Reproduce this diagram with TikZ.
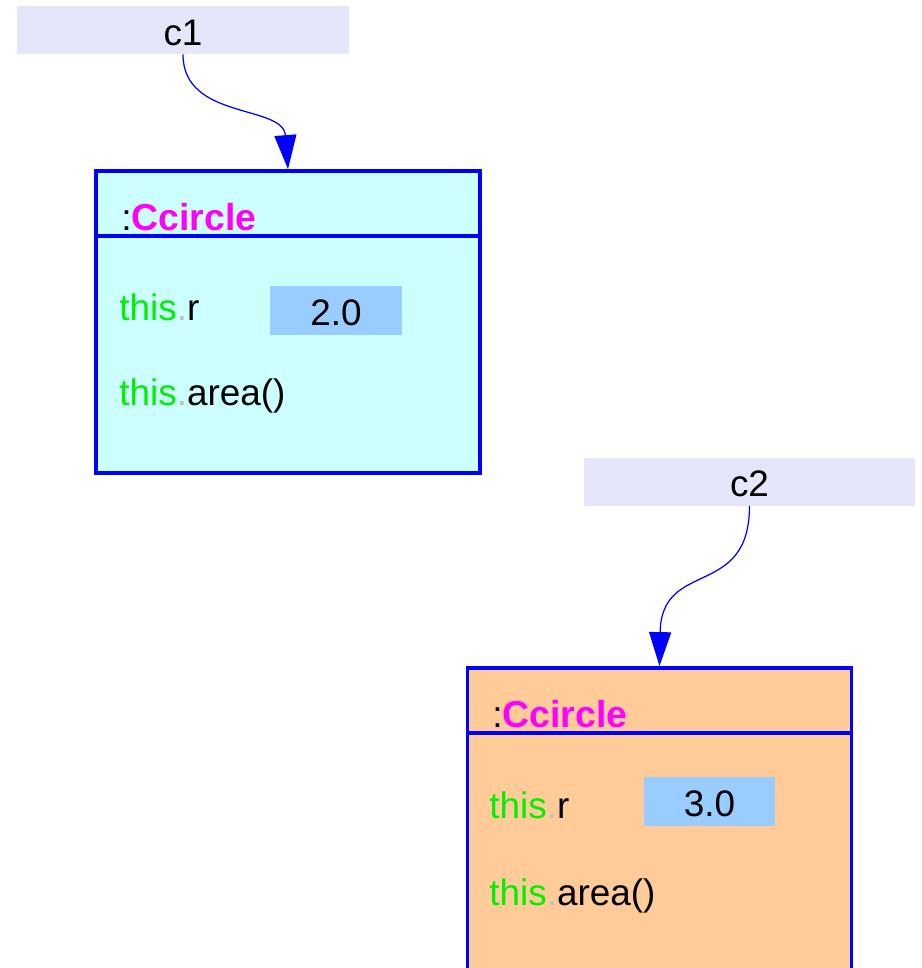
\documentclass[tikz,border=0pt]{standalone}
\usepackage{fontspec}
\setmainfont{Liberation Sans}
\definecolor{objblue}{RGB}{0,0,255}
\definecolor{reflav}{RGB}{230,230,250}
\definecolor{cyanfill}{RGB}{204,255,255}
\definecolor{orangefill}{RGB}{255,204,153}
\definecolor{valblue}{RGB}{153,204,255}
\definecolor{thisgreen}{RGB}{0,240,0}
\definecolor{dotgray}{RGB}{192,192,192}
\definecolor{titlemag}{RGB}{255,0,255}
\usetikzlibrary{arrows.meta,positioning}

\newcommand{\thisof}[1]{{\color{thisgreen}this}{\color{dotgray}.}#1}

\begin{document}
\begin{tikzpicture}[x=0.02cm,y=-0.02cm,
      refbox/.style={rectangle,fill=reflav,inner sep=0pt,minimum width=6.64cm,
                     minimum height=0.96cm,text height=0.6cm,text depth=0cm,
                     font=\fontsize{21}{25}\selectfont},
      objbox/.style={rectangle,draw=objblue,line width=2.2pt,inner sep=0pt,
                     minimum width=7.68cm,minimum height=6.04cm},
      valbox/.style={rectangle,fill=valblue,inner sep=0pt,minimum width=2.64cm,
                     minimum height=0.98cm,text height=0.58cm,text depth=0cm,
                     font=\fontsize{21}{25}\selectfont},
      member/.style={anchor=base west,inner sep=0pt,font=\fontsize{21}{25}\selectfont},
      title/.style={anchor=base west,inner sep=0pt,font=\fontsize{21.3}{25}\selectfont},
      ref/.style={draw=objblue,line width=0.7pt,
                  -{Triangle[length=0.68cm,width=0.44cm]}}]

      \useasboundingbox (0,0) rectangle (921,968);

      % Objeto c1
      \node[objbox,fill=cyanfill] (obj1) at (288,322) {};
      \draw[objblue,line width=2.2pt] ([yshift=-1.34cm]obj1.north west)
        -- ([yshift=-1.34cm]obj1.north east);
      \node[title] (title1) at (121,230) {:\textbf{\color{titlemag}Ccircle}};
      \node[member] (r1) at (119,320) {\thisof{r}};
      \node[valbox] (val1) at (336,310.5) {2.0};
      \node[member] (area1) at (119,405) {\thisof{area()}};

      % Objeto c2
      \node[objbox,fill=orangefill] (obj2) at (659.5,819) {};
      \draw[objblue,line width=2.2pt] ([yshift=-1.34cm]obj2.north west)
        -- ([yshift=-1.34cm]obj2.north east);
      \node[title] (title2) at (492,727) {:\textbf{\color{titlemag}Ccircle}};
      \node[member] (r2) at (489,818) {\thisof{r}};
      \node[valbox] (val2) at (709.5,801.5) {3.0};
      \node[member] (area2) at (489,905) {\thisof{area()}};

      % Referencias
      \node[refbox] (c1) at (183,30) {c1};
      \node[refbox] (c2) at (749.5,481.5) {c2};

      \draw[ref] (c1.south) .. controls +(0,66) and +(-5,-65) .. (obj1.north);
      \draw[ref] (c2.south) .. controls +(0,94) and +(2,-108) .. (obj2.north);
    \end{tikzpicture}
\end{document}
